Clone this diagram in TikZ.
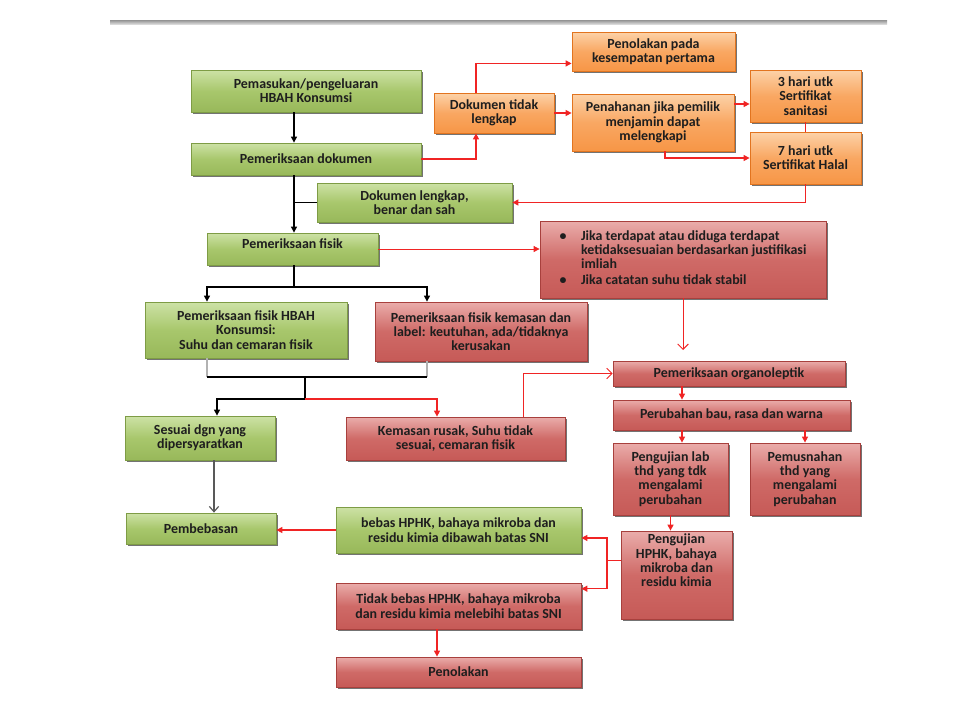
\documentclass[tikz,border=0pt]{standalone}
\usepackage{fontspec}
\setmainfont{Carlito}
\usetikzlibrary{arrows.meta,shadows,calc}

\definecolor{grnTop}{HTML}{CDE2A6}
\definecolor{grnMid}{HTML}{A8C76C}
\definecolor{grnBot}{HTML}{98B85A}
\definecolor{grnLine}{HTML}{7E9C45}
\definecolor{redTop}{HTML}{EAADAB}
\definecolor{redMid}{HTML}{CF6A67}
\definecolor{redBot}{HTML}{C65A57}
\definecolor{redLine}{HTML}{A8403D}
\definecolor{orgTop}{HTML}{FCD2A8}
\definecolor{orgMid}{HTML}{F9A762}
\definecolor{orgBot}{HTML}{F79646}
\definecolor{orgLine}{HTML}{E2741F}
\definecolor{txt}{HTML}{1E1E1E}
\definecolor{arrRed}{HTML}{F02424}

\tikzset{
  box/.style={draw=#1Line, line width=0.6pt, top color=#1Top, bottom color=#1Bot,
    middle color=#1Mid, inner sep=2pt, align=center, text=txt,
    font=\bfseries\fontsize{10.5}{10.8}\selectfont,
    drop shadow={shadow xshift=1.6pt, shadow yshift=-1.6pt, fill=black, opacity=0.55}},
  gbox/.style={box=grn},
  rbox/.style={box=red},
  obox/.style={box=org},
  sz/.style 2 args={minimum width=#1*0.0265cm, minimum height=#2*0.0265cm},
  blk/.style={draw=black, line width=0.9pt},
  barr/.style={blk, -{Triangle[length=4.5pt,width=4.5pt]}},
  gln/.style={draw=gray!60, line width=1.4pt},
  garr/.style={draw=gray!70!black, line width=0.9pt, -{Straight Barb[length=4pt,width=7pt]}},
  rln/.style={draw=arrRed, line width=1pt},
  rarr/.style={rln, -{Triangle[length=4.5pt,width=4.5pt]}},
  rthin/.style={draw=arrRed, line width=0.6pt, -{Triangle[length=4.5pt,width=4.5pt]}},
  ropen/.style={draw=arrRed, line width=0.7pt, -{Straight Barb[length=4pt,width=8pt]}}
}

\begin{document}
\begin{tikzpicture}[x=0.0265cm, y=-0.0265cm]
\useasboundingbox (0,0) rectangle (960,720);
\shade[top color=gray!85, bottom color=gray!30] (110,20) rectangle (887,24);

% document check
\node (A) [gbox, sz={230}{42}] at (306,91) {Pemasukan/pengeluaran\\HBAH Konsumsi};
\node (B) [gbox, sz={230}{32}] at (306,159) {Pemeriksaan dokumen};
\node (C) [obox, sz={120}{40}] at (494,113) {Dokumen tidak\\lengkap};
\node (D) [obox, sz={163}{39}] at (653.5,51.5) {Penolakan pada\\kesempatan pertama};
\node (E) [obox, sz={162}{57}] at (653,122.5) {Penahanan jika pemilik\\menjamin dapat\\melengkapi};
\node (F) [obox, sz={111}{52}] at (805.5,96) {3 hari utk\\Sertifikat\\sanitasi};
\node (G) [obox, sz={111}{52}] at (805.5,158) {7 hari utk\\Sertifikat Halal};
\node (H) [gbox, sz={195}{39}] at (414.5,202.5) {Dokumen lengkap,\\benar dan sah};

% physical check
\node (I) [gbox, sz={171}{32}, text depth=7.5pt] at (292.5,249) {Pemeriksaan fisik};
\node (J) [rbox, sz={286}{77}] at (683,259.5) {%
  \begin{tabular}{@{}l@{\hspace{11pt}}l@{}}
  \textbullet & Jika terdapat atau diduga terdapat\\
   & ketidaksesuaian berdasarkan justifikasi\\
   & imliah\\[1pt]
  \textbullet & Jika catatan suhu tidak stabil
  \end{tabular}};
\node (K) [gbox, sz={202}{56}] at (246,330) {Pemeriksaan fisik HBAH\\Konsumsi:\\Suhu dan cemaran fisik};
\node (L) [rbox, sz={212}{59}] at (481,331.5) {Pemeriksaan fisik kemasan dan\\label: keutuhan, ada/tidaknya\\kerusakan};
\node (M) [gbox, sz={150}{44}] at (200,438) {Sesuai dgn yang\\dipersyaratkan};
\node (N) [rbox, sz={219}{43}] at (455.5,438.5) {Kemasan rusak, Suhu tidak\\sesuai, cemaran fisik};

% organoleptic and lab tests
\node (O) [rbox, sz={232}{25}] at (729,373.5) {Pemeriksaan organoleptik};
\node (P) [rbox, sz={237}{30}] at (731.5,415) {Perubahan bau, rasa dan warna};
\node (Q) [rbox, sz={115}{72}] at (670.5,479) {Pengujian lab\\thd yang tdk\\mengalami\\perubahan};
\node (R) [rbox, sz={110}{72}] at (805,479) {Pemusnahan\\thd yang\\mengalami\\perubahan};
\node (S) [gbox, sz={150}{31}] at (201,528.5) {Pembebasan};
\node (T) [gbox, sz={245}{46}] at (458.5,530) {bebas HPHK, bahaya mikroba dan\\residu kimia dibawah batas SNI};
\node (U) [rbox, sz={111}{88}, text depth=22pt] at (676.5,575) {Pengujian\\HPHK, bahaya\\mikroba dan\\residu kimia};
\node (V) [rbox, sz={245}{46}] at (458.5,606) {Tidak bebas HPHK, bahaya mikroba\\dan residu kimia melebihi batas SNI};
\node (W) [rbox, sz={245}{30}] at (458.5,672) {Penolakan};

\coordinate (tr) at (294,0);
\coordinate (cx) at (476,0);
\coordinate (j1) at (294,287);
\coordinate (kx) at (207,0);
\coordinate (lx) at (427,0);
\coordinate (j2) at (305,377);
\coordinate (j3) at (305,399);
\coordinate (mx) at (217,0);
\coordinate (nx) at (437,0);
\coordinate (sx) at (214,0);
\coordinate (ox) at (682,0);
\coordinate (ux) at (607,0);
\coordinate (rx) at (523,0);

\draw[barr] (A.south -| tr) -- (B.north -| tr);
\draw[barr] (B.south -| tr) -- (I.north -| tr);
\draw[blk] (H.west) -- (H.west -| tr);
\draw[rarr] (B.east) -| (C.south -| cx);
\draw[rarr] (C.north -| cx) |- ($(D.south west)!0.2!(D.north west)$);
\draw[rarr] (C.east) -- (C.east -| E.west);
\path ($(E.north east)!0.18!(E.south east)$) coordinate (e1);
\draw[rarr] (e1) -- (e1 -| F.west);
\draw[rarr] ($(E.south)+(12,0)$) |- (G.west);
\draw[rln] (G.north) -- (F.south);
\draw[rarr] (G.south) |- (H.east);

\draw[rthin] (I.east) -- (I.east -| J.west);
\draw[blk] (I.south -| j1) -- (j1);
\draw[barr] (j1) -| (K.north -| kx);
\draw[barr] (j1) -| (L.north -| lx);
\draw[gln] (K.south -| kx) -- (kx |- j2);
\draw[gln] (L.south -| lx) -- (lx |- j2);
\draw[blk] (kx |- j2) -- (lx |- j2);
\draw[blk] (j2) -- (j3);
\draw[barr] (j3) -| (M.north -| mx);
\draw[rarr] (j3) -| (N.north -| nx);

\draw[ropen] (N.north -| rx) |- (O.west);
\draw[ropen, shorten >=8pt] (J.south) -- (J.south |- O.north);
\draw[rarr] (O.south -| ox) -- (P.north -| ox);
\draw[rarr] (P.south -| ox) -- (Q.north -| ox);
\draw[rarr] (P.south -| R.north) -- (R.north);
\draw[rarr] (Q.south) -- (Q.south |- U.north);

\path ($(U.north west)!0.34!(U.south west)$) coordinate (u1);
\path ($(T.north east)!0.67!(T.south east)$) coordinate (t1);
\path ($(V.north east)!0.13!(V.south east)$) coordinate (v1);
\draw[rln] (u1) -- (u1 -| ux);
\draw[rarr] (u1 -| ux) |- (t1);
\draw[rarr] (u1 -| ux) |- (v1);
\draw[rarr] (T.west) -- (T.west -| S.east);
\draw[garr] (M.south -| sx) -- (S.north -| sx);
\draw[rarr] (V.south -| nx) -- (W.north -| nx);
\end{tikzpicture}
\end{document}
